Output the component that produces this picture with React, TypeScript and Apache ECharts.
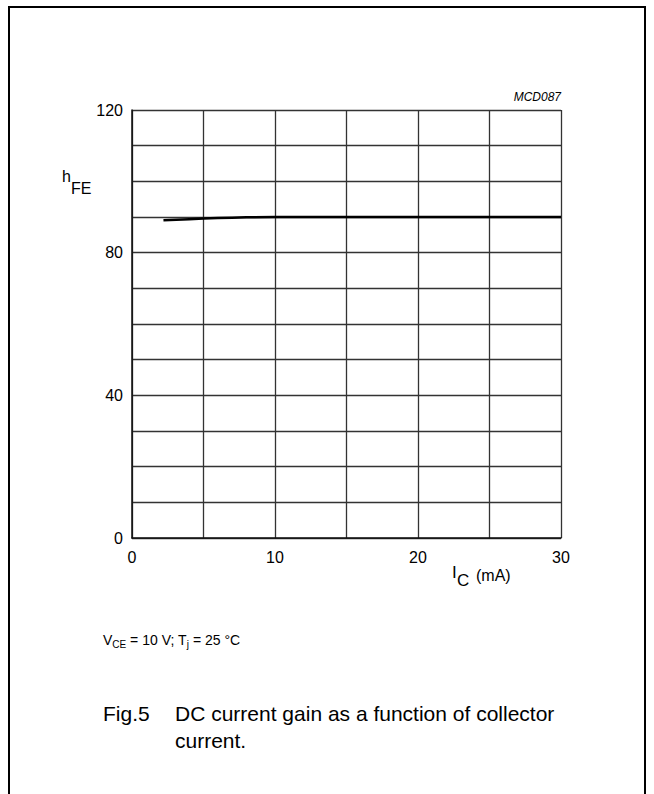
import React, { useEffect, useRef } from "react";
import * as echarts from "echarts";

const icValues = [2.2, 4, 6, 8, 10, 15, 20, 25, 30];
const hfeValues = [89.1, 89.4, 89.7, 89.9, 90.0, 90.0, 90.0, 90.0, 90.0];
const xTickLabels = [0, 10, 20, 30];
const yTickLabels = [0, 40, 80, 120];

const FONT = "Liberation Sans, Arial, Helvetica, sans-serif";

export default function App() {
  const ref = useRef<HTMLDivElement>(null);
  useEffect(() => {
    if (!ref.current) return;
    const chart = echarts.init(ref.current, null, { renderer: "svg" });
    const data = icValues.map((x, i) => [x, hfeValues[i]]);
    chart.setOption({
      animation: false,
      backgroundColor: "#fff",
      grid: { left: 132, top: 110, right: 93, bottom: 256 },
      xAxis: {
        type: "value",
        min: 0,
        max: 30,
        interval: 5,
        axisLine: { show: true, lineStyle: { color: "#111", width: 1.5 } },
        axisTick: { show: false },
        splitLine: { show: true, lineStyle: { color: "#333", width: 1.3 } },
        axisLabel: {
          margin: 11,
          color: "#000",
          fontFamily: FONT,
          fontSize: 16,
          formatter: (v: number) => (xTickLabels.includes(v) ? String(v) : ""),
        },
      },
      yAxis: {
        type: "value",
        min: 0,
        max: 120,
        interval: 10,
        axisLine: { show: true, lineStyle: { color: "#111", width: 1.5 } },
        axisTick: { show: false },
        splitLine: { show: true, lineStyle: { color: "#333", width: 1.3 } },
        axisLabel: {
          margin: 9,
          color: "#000",
          fontFamily: FONT,
          fontSize: 16,
          formatter: (v: number) => (yTickLabels.includes(v) ? String(v) : ""),
        },
      },
      series: [
        {
          type: "line",
          data,
          smooth: true,
          symbol: "none",
          lineStyle: { color: "#000", width: 2.5 },
        },
      ],
      graphic: [
        {
          type: "polyline",
          shape: { points: [[9, 800], [9, 7], [645, 7], [645, 800]] },
          style: { stroke: "#000", lineWidth: 2, fill: "none" },
        },
        {
          type: "text",
          x: 561,
          y: 97,
          style: {
            text: "MCD087",
            fontFamily: FONT,
            fontStyle: "italic",
            fontSize: 12,
            fill: "#000",
            align: "right",
            verticalAlign: "middle",
          },
        },
        {
          type: "text",
          x: 62,
          y: 176,
          style: { text: "h", fontFamily: FONT, fontSize: 16, fill: "#000", verticalAlign: "middle" },
        },
        {
          type: "text",
          x: 71,
          y: 188,
          style: { text: "FE", fontFamily: FONT, fontSize: 16, fill: "#000", verticalAlign: "middle" },
        },
        {
          type: "text",
          x: 452,
          y: 572,
          style: { text: "I", fontFamily: FONT, fontSize: 17, fill: "#000", verticalAlign: "middle" },
        },
        {
          type: "text",
          x: 457,
          y: 580,
          style: { text: "C", fontFamily: FONT, fontSize: 17, fill: "#000", verticalAlign: "middle" },
        },
        {
          type: "text",
          x: 476,
          y: 575,
          style: { text: "(mA)", fontFamily: FONT, fontSize: 16, fill: "#000", verticalAlign: "middle" },
        },
        {
          type: "text",
          x: 103,
          y: 640,
          style: {
            rich: {
              m: { fontFamily: FONT, fontSize: 14, fill: "#000" },
              s: { fontFamily: FONT, fontSize: 10, fill: "#000", padding: [8, 0, 0, 0] },
            },
            text: "{m|V}{s|CE}{m| = 10 V; T}{s|j}{m| = 25 °C}",
            verticalAlign: "middle",
          },
        },
        {
          type: "text",
          x: 103,
          y: 713,
          style: { text: "Fig.5", fontFamily: FONT, fontSize: 21, fill: "#000", verticalAlign: "middle" },
        },
        {
          type: "text",
          x: 175,
          y: 713,
          style: {
            text: "DC current gain as a function of collector",
            fontFamily: FONT,
            fontSize: 21,
            fill: "#000",
            verticalAlign: "middle",
          },
        },
        {
          type: "text",
          x: 175,
          y: 740,
          style: { text: "current.", fontFamily: FONT, fontSize: 21, fill: "#000", verticalAlign: "middle" },
        },
      ],
    });
    return () => chart.dispose();
  }, []);
  return (
    <div
      ref={ref}
      style={{ position: "fixed", left: 0, top: 0, width: 654, height: 794, background: "#fff" }}
    />
  );
}
